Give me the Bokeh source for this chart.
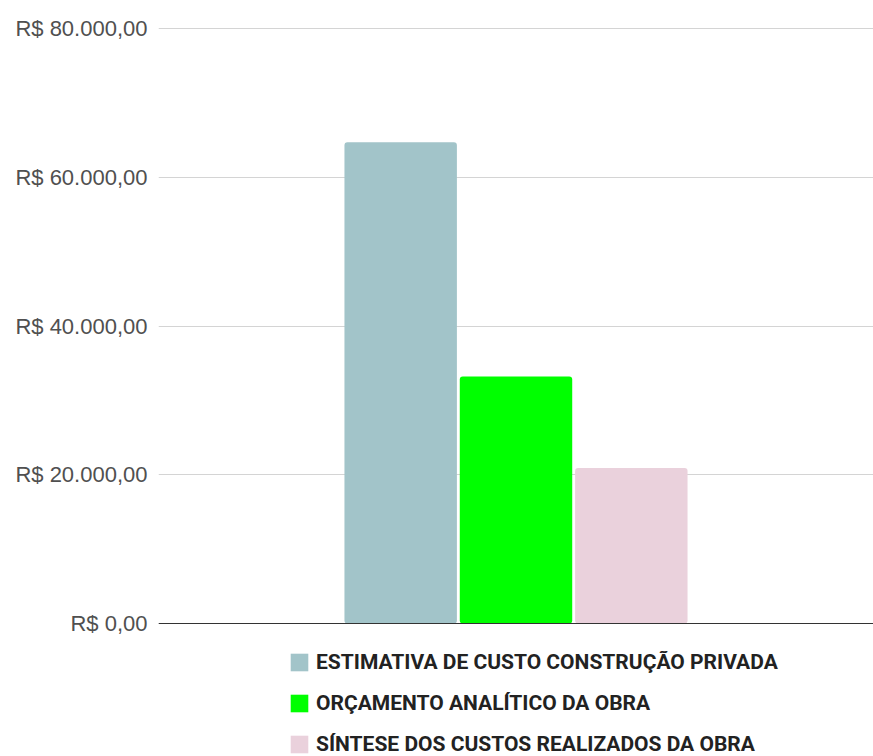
from bokeh.plotting import figure
from bokeh.models import ColumnDataSource, FactorRange, Range1d, FixedTicker, Legend, LegendItem, Span
from bokeh.embed import file_html
from bokeh.resources import INLINE

series = ["ESTIMATIVA DE CUSTO CONSTRUÇÃO PRIVADA",
          "ORÇAMENTO ANALÍTICO DA OBRA",
          "SÍNTESE DOS CUSTOS REALIZADOS DA OBRA"]
values = [64700, 33200, 20900]
colors = ["#a2c4c9", "#00ff00", "#ead1dc"]
y_ticks = [0, 20000, 40000, 60000, 80000]
y_tick_labels = ["R$ 0,00", "R$ 20.000,00", "R$ 40.000,00", "R$ 60.000,00", "R$ 80.000,00"]

# layout (pixels): frame covers chart area plus legend area below the baseline
W, H = 873, 756
top_px, zero_px, max_px = 27, 623, 28
per_px = (y_ticks[-1] - y_ticks[0]) / (zero_px - max_px)
y_end = y_ticks[-1] + (max_px - top_px) * per_px
y_start = y_ticks[0] - (H - zero_px) * per_px

src = ColumnDataSource(dict(series=series, value=values, color=colors))

p = figure(width=W, height=H, output_backend="svg", toolbar_location=None,
           x_range=FactorRange(factors=series, range_padding=1.6, range_padding_units="absolute"),
           y_range=Range1d(y_start, y_end),
           min_border_left=158, min_border_right=0, min_border_top=top_px, min_border_bottom=0)
p.outline_line_color = None
p.background_fill_color = "white"

r = p.vbar(x="series", top="value", width=0.975, source=src,
           fill_color="color", line_color=None, border_radius=3)

p.xaxis.visible = False
p.xgrid.grid_line_color = None
p.ygrid.grid_line_color = "#d4d4d4"
p.ygrid.grid_line_width = 1

yax = p.yaxis[0]
yax.ticker = FixedTicker(ticks=y_ticks, minor_ticks=[])
yax.major_label_overrides = {t: l for t, l in zip(y_ticks, y_tick_labels)}
yax.axis_line_color = None
yax.major_tick_line_color = None
yax.minor_tick_line_color = None
yax.major_tick_out = 0
yax.major_tick_in = 0
yax.major_label_standoff = 11
yax.major_label_text_font = "Liberation Sans"
yax.major_label_text_font_size = "22px"
yax.major_label_text_color = "#505050"

p.add_layout(Span(location=0, dimension="width", line_color="#333333", line_width=1))

items = [LegendItem(label=s, renderers=[r], index=i) for i, s in enumerate(series)]
legend = Legend(items=items, orientation="vertical", location=(130, 0),
                padding=0, margin=0, border_line_color=None, background_fill_alpha=0,
                glyph_width=22, glyph_height=22, label_height=22, spacing=17,
                label_standoff=6, label_text_font="Roboto", label_text_font_style="bold",
                label_text_font_size="21px", label_text_color="#222222")
p.add_layout(legend, "center")

open("out.html", "w").write(file_html(p, INLINE))
